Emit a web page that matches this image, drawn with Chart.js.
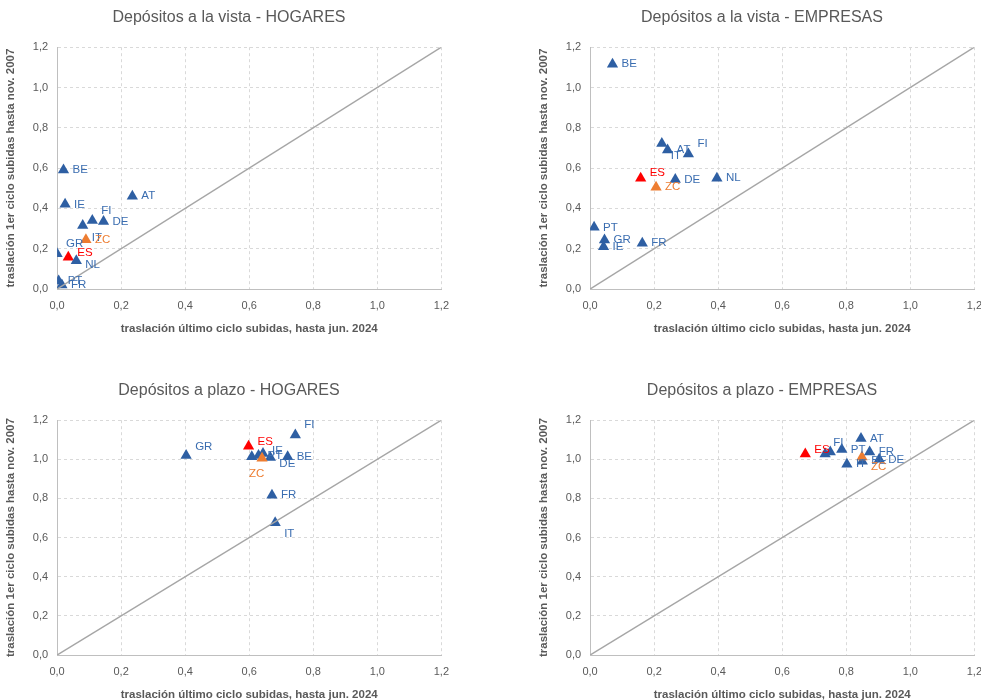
<!DOCTYPE html>
<html>
<head>
<meta charset="utf-8">
<script src="https://cdn.jsdelivr.net/npm/chart.js@4.4.0/dist/chart.umd.min.js"></script>
<style>
  body { margin: 0; background: #fff; overflow: hidden; width: 981px; height: 700px; position: relative; }
  canvas { position: absolute; }
</style>
</head>
<body>
<canvas id="c1" width="459" height="345" style="left:0;top:0"></canvas>
<canvas id="c2" width="459" height="345" style="left:533px;top:0"></canvas>
<canvas id="c3" width="459" height="338" style="left:0;top:373px"></canvas>
<canvas id="c4" width="459" height="338" style="left:533px;top:373px"></canvas>
<script>
// ---- data ----
let axisTicks = [0, 0.2, 0.4, 0.6, 0.8, 1.0, 1.2];
let diagonal = [0, 1.2]; // 45 degree reference line

// depositos a la vista - hogares
let vhCountries = ['BE', 'IE', 'AT', 'FI', 'DE', 'IT', 'ZC', 'GR', 'ES', 'NL', 'PT', 'FR'];
let vhX = [0.02, 0.025, 0.235, 0.11, 0.145, 0.08, 0.09, 0.0, 0.035, 0.06, 0.005, 0.015];
let vhY = [0.59, 0.42, 0.46, 0.34, 0.335, 0.315, 0.245, 0.175, 0.157, 0.14, 0.04, 0.02];

// depositos a la vista - empresas
let veCountries = ['BE', 'IT', 'AT', 'FI', 'ES', 'ZC', 'DE', 'NL', 'PT', 'GR', 'IE', 'FR'];
let veX = [0.07, 0.224, 0.242, 0.307, 0.158, 0.206, 0.266, 0.396, 0.0125, 0.045, 0.042, 0.163];
let veY = [1.115, 0.722, 0.69, 0.67, 0.55, 0.505, 0.544, 0.55, 0.306, 0.243, 0.21, 0.227];

// depositos a plazo - hogares
let phCountries = ['GR', 'ES', 'FI', '', 'PT', 'IE', 'DE', 'BE', 'ZC', 'FR', 'IT'];
let phX = [0.403, 0.598, 0.744, 0.608, 0.629, 0.643, 0.666, 0.72, 0.64, 0.671, 0.681];
let phY = [1.02, 1.067, 1.124, 1.013, 1.02, 1.03, 1.01, 1.013, 1.005, 0.817, 0.676];

// depositos a plazo - empresas
let peCountries = ['ES', '', 'FI', 'PT', 'AT', 'IT', 'BE', 'ZC', 'FR', 'DE'];
let peX = [0.672, 0.734, 0.75, 0.786, 0.846, 0.802, 0.85, 0.849, 0.873, 0.903];
let peY = [1.027, 1.027, 1.038, 1.05, 1.107, 0.975, 0.99, 1.012, 1.038, 1.0];

// label nudges in px (style only)
let nudges = {
  c1: { FI: [0, -10], IT: [0, 12], GR: [0, -10], ES: [0, -5], NL: [0, 4] },
  c2: { IT: [0, 12], FI: [0, -10], ES: [0, -5] },
  c3: { GR: [0, -9], ES: [0, -4], FI: [0, -10], IT: [0, 11], ZC: [-22, 15], DE: [0, 6], IE: [0, -3] },
  c4: { ES: [0, -4], FI: [-6, -9], ZC: [0, 10] }
};

const BLUE = '#2e5fa3', BLUE_TXT = '#3a6db0', RED = '#ff0000', ORANGE = '#ed7d31';
const GREY = '#595959';
const FONT = "'Liberation Sans', Arial, sans-serif";

function colorOf(c) { return c === 'ES' ? RED : (c === 'ZC' ? ORANGE : BLUE); }
function txtColorOf(c) { return c === 'ES' ? RED : (c === 'ZC' ? ORANGE : BLUE_TXT); }
function fmt(v) { return v.toFixed(1).replace('.', ','); }

// draws the country codes next to each marker
const pointLabels = {
  id: 'pointLabels',
  afterDatasetsDraw(chart) {
    let ds = chart.data.datasets[1];
    let meta = chart.getDatasetMeta(1);
    let nd = nudges[chart.canvas.id] || {};
    let ctx = chart.ctx;
    ctx.save();
    ctx.font = "11.5px " + FONT;
    ctx.textBaseline = 'middle';
    meta.data.forEach((p, i) => {
      let name = ds.names[i];
      if (!name) return;
      let off = nd[name] || [0, 0];
      ctx.fillStyle = txtColorOf(name);
      ctx.fillText(name, p.x + 9 + off[0], p.y + off[1]);
    });
    ctx.restore();
  }
};

function axis(titleText, titlePad, tickPad) {
  return {
    type: 'linear', min: 0, max: 1.2,
    afterBuildTicks: s => { s.ticks = axisTicks.map(v => ({ value: v })); },
    ticks: { callback: v => fmt(v), color: GREY, font: { size: 11, family: FONT }, padding: tickPad },
    grid: { color: '#d9d9d9', drawTicks: false, lineWidth: 1 },
    border: { display: true, color: '#bfbfbf', width: 1, dash: [3, 3] },
    title: { display: true, text: titleText, color: GREY, font: { size: 11.5, weight: 'bold', family: FONT }, padding: titlePad }
  };
}

function createChart(id, title, names, xs, ys) {
  let pts = xs.map((x, i) => ({ x: x, y: ys[i] }));
  new Chart(document.getElementById(id), {
    type: 'scatter',
    data: {
      datasets: [
        {
          data: diagonal.map(v => ({ x: v, y: v })),
          showLine: true, borderColor: '#a6a6a6', borderWidth: 1.5, pointRadius: 0
        },
        {
          data: pts, names: names,
          pointStyle: 'triangle', pointRadius: 6.5, borderWidth: 0,
          backgroundColor: names.map(colorOf), pointBackgroundColor: names.map(colorOf)
        }
      ]
    },
    options: {
      responsive: false, animation: false, devicePixelRatio: 1,
      layout: { padding: { left: 0, right: 1, top: 0, bottom: 7 } },
      plugins: {
        legend: { display: false }, tooltip: { enabled: false },
        title: { display: true, text: title, color: GREY, font: { size: 16, weight: 'normal', family: FONT }, padding: { top: 8, bottom: 20 } }
      },
      scales: {
        x: axis('traslación último ciclo subidas, hasta jun. 2024', { top: 0, bottom: 2 }, 10),
        y: axis('traslación 1er ciclo subidas hasta nov. 2007', { top: 4, bottom: 6 }, 9)
      }
    },
    plugins: [pointLabels]
  });
}

document.addEventListener('DOMContentLoaded', () => {
  createChart('c1', 'Depósitos a la vista - HOGARES', vhCountries, vhX, vhY);
  createChart('c2', 'Depósitos a la vista - EMPRESAS', veCountries, veX, veY);
  createChart('c3', 'Depósitos a plazo - HOGARES', phCountries, phX, phY);
  createChart('c4', 'Depósitos a plazo - EMPRESAS', peCountries, peX, peY);
});
</script>
</body>
</html>
